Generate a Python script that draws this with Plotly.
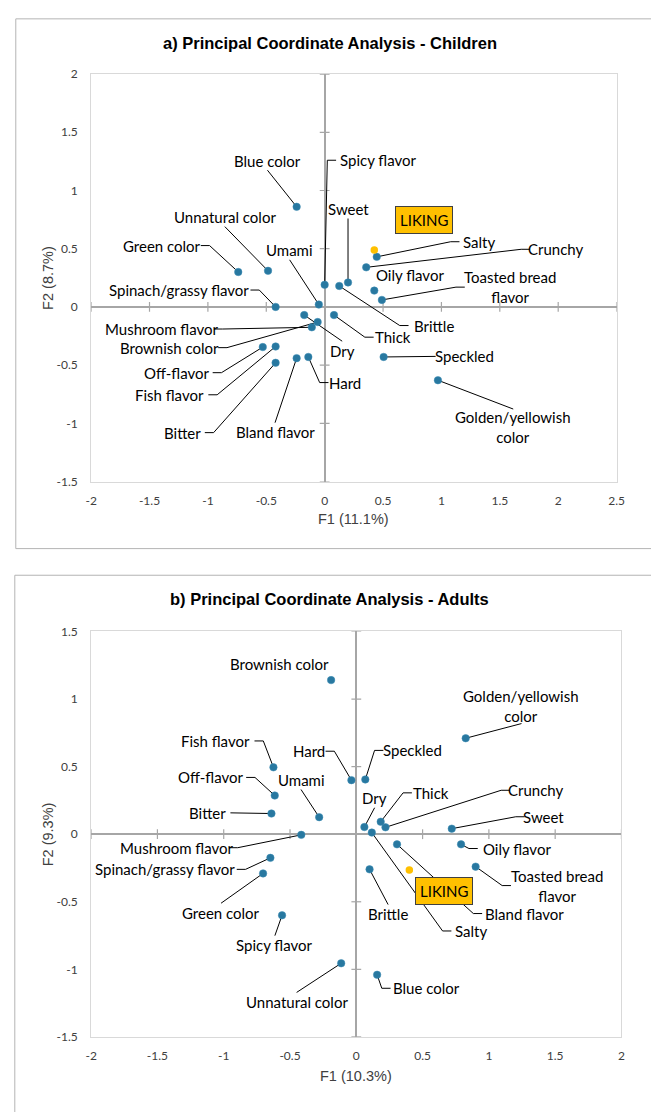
import plotly.graph_objects as go

# ---------------- data ----------------
attributes = ["Blue color", "Unnatural color", "Green color", "Spinach/grassy flavor", "Umami",
              "Spicy flavor", "Sweet", "Brittle", "Salty", "Crunchy", "Oily flavor",
              "Toasted bread flavor", "Dry", "Brownish color", "Mushroom flavor", "Thick",
              "Off-flavor", "Fish flavor", "Bitter", "Bland flavor", "Hard", "Speckled",
              "Golden/yellowish color"]

child_f1 = [-0.24, -0.485, -0.74, -0.42, -0.05, 0.0, 0.2, 0.125, 0.446, 0.356, 0.425,
            0.49, -0.175, -0.06, -0.11, 0.08, -0.53, -0.42, -0.42, -0.24, -0.14, 0.505, 0.97]
child_f2 = [0.86, 0.31, 0.30, 0.0, 0.02, 0.19, 0.21, 0.18, 0.43, 0.34, 0.14,
            0.06, -0.07, -0.13, -0.175, -0.07, -0.345, -0.34, -0.48, -0.44, -0.43, -0.43, -0.63]

adult_f1 = [0.157, -0.114, -0.703, -0.648, -0.28, -0.56, 0.72, 0.10, 0.117, 0.22, 0.79,
            0.90, 0.061, -0.19, -0.415, 0.184, -0.615, -0.625, -0.64, 0.307, -0.037, 0.068, 0.825]
adult_f2 = [-1.04, -0.955, -0.29, -0.175, 0.126, -0.60, 0.041, -0.26, 0.012, 0.051, -0.075,
            -0.24, 0.053, 1.14, -0.005, 0.092, 0.286, 0.495, 0.153, -0.075, 0.40, 0.405, 0.71]

liking_child = [0.425, 0.49]
liking_adult = [0.40, -0.265]

x_ticks_child = [-2, -1.5, -1, -0.5, 0, 0.5, 1, 1.5, 2, 2.5]
y_ticks_child = [-1.5, -1, -0.5, 0, 0.5, 1, 1.5, 2]
x_ticks_adult = [-2, -1.5, -1, -0.5, 0, 0.5, 1, 1.5, 2]
y_ticks_adult = [-1.5, -1, -0.5, 0, 0.5, 1, 1.5]

# ---------------- label placement (layout only) ----------------
display = {"Toasted bread flavor": "Toasted bread<br>flavor",
           "Golden/yellowish color": "Golden/yellowish<br>color"}

child_labels = {
    "Blue color": (-0.49, 1.255, "b"), "Spicy flavor": (0.46, 1.26, "l"),
    "Sweet": (0.2, 0.84, "b"), "Unnatural color": (-0.855, 0.77, "b"),
    "Green color": (-1.395, 0.527, "r"), "Umami": (-0.30, 0.485, "b"),
    "Salty": (1.32, 0.56, "l"), "Crunchy": (1.98, 0.495, "l"),
    "Oily flavor": (0.735, 0.277, None), "Toasted bread flavor": (1.59, 0.17, "l"),
    "Spinach/grassy flavor": (-1.25, 0.145, "r"), "Brittle": (0.94, -0.16, "l"),
    "Thick": (0.585, -0.26, "l"), "Dry": (0.15, -0.375, "t"),
    "Mushroom flavor": (-1.395, -0.19, "r"), "Brownish color": (-1.33, -0.35, "r"),
    "Speckled": (1.2, -0.425, "l"), "Off-flavor": (-1.265, -0.565, "r"),
    "Fish flavor": (-1.33, -0.755, "r"), "Hard": (0.17, -0.65, "l"),
    "Bitter": (-1.22, -1.08, "r"), "Bland flavor": (-0.425, -1.075, "t"),
    "Golden/yellowish color": (1.615, -1.03, "t"),
}
adult_labels = {
    "Brownish color": (-0.58, 1.257, None), "Golden/yellowish color": (1.246, 0.95, "b"),
    "Fish flavor": (-1.062, 0.69, "r"), "Hard": (-0.353, 0.614, "r"),
    "Speckled": (0.424, 0.62, "l"), "Off-flavor": (-1.10, 0.42, "r"),
    "Umami": (-0.417, 0.40, "b"), "Bitter": (-1.12, 0.158, "r"),
    "Dry": (0.138, 0.265, "b"), "Thick": (0.565, 0.306, "l"),
    "Crunchy": (1.354, 0.325, "l"), "Sweet": (1.415, 0.129, "l"),
    "Mushroom flavor": (-1.354, -0.10, "r"), "Spinach/grassy flavor": (-1.443, -0.26, "r"),
    "Green color": (-1.02, -0.58, "t"), "Spicy flavor": (-0.614, -0.82, "t"),
    "Unnatural color": (-0.45, -1.24, "t"), "Blue color": (0.528, -1.14, "l"),
    "Brittle": (0.24, -0.59, "t"), "Salty": (0.863, -0.716, "l"),
    "Bland flavor": (1.268, -0.587, "l"), "Oily flavor": (1.21, -0.106, "l"),
    "Toasted bread flavor": (1.51, -0.38, "l"),
}
liking_box_child = (0.85, 0.745)
liking_box_adult = (0.66, -0.42)

W, H = 651, 1112
FONT = "Lato"
LFS = 15
CW = 6.7
LH = 17
DOT = "#2878A0"
ORANGE = "#FFC000"

panels = [
    dict(xa="x", ya="y", px=(87, 624), py=(67, 480), xr=(-2, 2.5), yr=(-1.5, 2),
         f1=child_f1, f2=child_f2, lik=liking_child, labels=child_labels, box=liking_box_child,
         xt=x_ticks_child, yt=y_ticks_child,
         title="a) Principal Coordinate Analysis - Children", ty=35,
         xtitle="F1 (11.1%)", xty=518, ytitle="F2 (8.7%)", frame=(10, 11, 548)),
    dict(xa="x2", ya="y2", px=(87, 629), py=(632, 1043), xr=(-2, 2), yr=(-1.5, 1.5),
         f1=adult_f1, f2=adult_f2, lik=liking_adult, labels=adult_labels, box=liking_box_adult,
         xt=x_ticks_adult, yt=y_ticks_adult,
         title="b) Principal Coordinate Analysis - Adults", ty=599,
         xtitle="F1 (10.3%)", xty=1083, ytitle="F2 (9.3%)", frame=(9, 575, 1130)),
]

fig = go.Figure()
layout_axes = {}
annotations = []
shapes = []


def leader(pxv, pyv, lab, text, sx, sy):
    lx, ly, side = lab
    lines = text.split("<br>")
    hw = max(len(s) for s in lines) * CW / 2
    hh = len(lines) * LH / 2
    if side == "r":
        x0 = lx + (hw + 3) / sx
        return [x0, x0 + 9 / sx, pxv], [ly, ly, pyv]
    if side == "l":
        x0 = lx - (hw + 3) / sx
        return [x0, x0 - 9 / sx, pxv], [ly, ly, pyv]
    if side == "b":
        return [lx, pxv], [ly - (hh + 1) / sy, pyv]
    if side == "t":
        return [lx, pxv], [ly + (hh + 1) / sy, pyv]
    return None


for i, p in enumerate(panels):
    sx = (p["px"][1] - p["px"][0]) / (p["xr"][1] - p["xr"][0])
    sy = (p["py"][1] - p["py"][0]) / (p["yr"][1] - p["yr"][0])
    suffix = "" if i == 0 else "2"
    layout_axes["xaxis" + suffix] = dict(
        domain=[p["px"][0] / W, p["px"][1] / W], range=list(p["xr"]),
        anchor=p["ya"], tickvals=p["xt"], ticktext=[f"{v:g}" for v in p["xt"]],
        showgrid=False, zeroline=True, zerolinecolor="#a6a6a6", zerolinewidth=1.5,
        showline=True, mirror=True, linecolor="#d9d9d9", linewidth=1,
        ticks="", ticklabelstandoff=8,
        tickfont=dict(family=FONT, size=12, color="#404040"), fixedrange=True)
    layout_axes["yaxis" + suffix] = dict(
        domain=[1 - p["py"][1] / H, 1 - p["py"][0] / H], range=list(p["yr"]),
        anchor=p["xa"], tickvals=p["yt"], ticktext=[f"{v:g}" for v in p["yt"]],
        showgrid=False, zeroline=True, zerolinecolor="#a6a6a6", zerolinewidth=1.5,
        showline=True, mirror=True, linecolor="#d9d9d9", linewidth=1,
        ticks="", ticklabelstandoff=10,
        tickfont=dict(family=FONT, size=12, color="#404040"), fixedrange=True)

    # tick marks crossing the zero axes
    fig.add_trace(go.Scatter(x=p["xt"], y=[0] * len(p["xt"]), mode="markers",
                             xaxis=p["xa"], yaxis=p["ya"], hoverinfo="skip", showlegend=False,
                             marker=dict(symbol="line-ns", size=7,
                                         line=dict(color="#a6a6a6", width=1.2))))
    fig.add_trace(go.Scatter(x=[0] * len(p["yt"]), y=p["yt"], mode="markers",
                             xaxis=p["xa"], yaxis=p["ya"], hoverinfo="skip", showlegend=False,
                             marker=dict(symbol="line-ew", size=7,
                                         line=dict(color="#a6a6a6", width=1.2))))

    # leader lines
    lx_all, ly_all = [], []
    for name, xv, yv in zip(attributes, p["f1"], p["f2"]):
        text = display.get(name, name)
        path = leader(xv, yv, p["labels"][name], text, sx, sy)
        if path:
            lx_all += path[0] + [None]
            ly_all += path[1] + [None]
        annotations.append(dict(x=p["labels"][name][0], y=p["labels"][name][1],
                                xref=p["xa"], yref=p["ya"], text=text, showarrow=False,
                                xanchor="center", yanchor="middle",
                                font=dict(family=FONT, size=LFS, color="#000000")))
    fig.add_trace(go.Scatter(x=lx_all, y=ly_all, mode="lines", xaxis=p["xa"], yaxis=p["ya"],
                             line=dict(color="#000000", width=1), hoverinfo="skip",
                             showlegend=False))

    # attribute points
    fig.add_trace(go.Scatter(x=p["f1"], y=p["f2"], mode="markers", xaxis=p["xa"], yaxis=p["ya"],
                             text=attributes, hoverinfo="text", showlegend=False,
                             marker=dict(color=DOT, size=7.5, line=dict(color="#3d8cb5", width=0.5))))
    # liking point
    fig.add_trace(go.Scatter(x=[p["lik"][0]], y=[p["lik"][1]], mode="markers",
                             xaxis=p["xa"], yaxis=p["ya"], hoverinfo="text", text=["LIKING"],
                             showlegend=False, marker=dict(color=ORANGE, size=7.5)))

    annotations.append(dict(x=p["box"][0], y=p["box"][1], xref=p["xa"], yref=p["ya"],
                            text="LIKING", showarrow=False, bgcolor=ORANGE,
                            xanchor="center", yanchor="middle",
                            bordercolor="#404040", borderwidth=1, borderpad=4,
                            font=dict(family=FONT, size=15, color="#000000")))

    # titles
    annotations.append(dict(x=331 / W, y=1 - p["ty"] / H, xref="paper", yref="paper",
                            xanchor="center", yanchor="middle",
                            text="<b>" + p["title"] + "</b>", showarrow=False,
                            font=dict(family="Liberation Sans", size=16.5, color="#000000")))
    annotations.append(dict(x=(p["px"][0] + p["px"][1]) / 2 / W, y=1 - p["xty"] / H,
                            xref="paper", yref="paper", text=p["xtitle"], showarrow=False,
                            xanchor="center", yanchor="middle",
                            font=dict(family="Liberation Sans", size=14.5, color="#404040")))
    annotations.append(dict(x=43 / W, y=1 - (p["py"][0] + p["py"][1]) / 2 / H,
                            xref="paper", yref="paper", text=p["ytitle"], showarrow=False,
                            textangle=-90, xanchor="center", yanchor="middle",
                            font=dict(family="Liberation Sans", size=14.5, color="#404040")))
    # panel frame
    fx, fy0, fy1 = p["frame"]
    shapes.append(dict(type="rect", xref="paper", yref="paper",
                       x0=fx / W, x1=1.05, y0=1 - fy1 / H, y1=1 - fy0 / H,
                       line=dict(color="#b4b4b4", width=1), fillcolor="rgba(0,0,0,0)",
                       layer="below"))

fig.update_layout(width=W, height=H, margin=dict(l=0, r=0, t=0, b=0),
                  paper_bgcolor="white", plot_bgcolor="white",
                  annotations=annotations, shapes=shapes, showlegend=False, **layout_axes)

fig.write_html("out.html", config={"displayModeBar": False},
               post_script="document.body.style.margin='0px';"
                           "document.body.style.overflow='hidden';")
